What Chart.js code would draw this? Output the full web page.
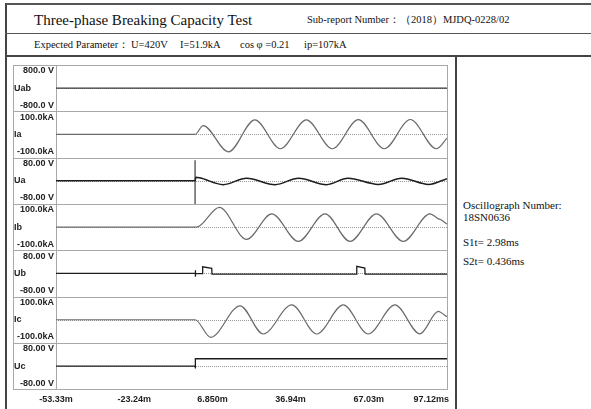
<!DOCTYPE html>
<html><head><meta charset="utf-8">
<script src="https://cdn.jsdelivr.net/npm/chart.js@4"></script>
<style>
html,body{margin:0;padding:0;background:#fff;width:591px;height:409px;overflow:hidden;}
.abs{position:absolute;}
.serif{font-family:"Liberation Serif","Times New Roman",serif;color:#111;white-space:nowrap;}
</style></head><body>
<div class="abs" style="left:5px;top:3px;width:600px;height:420px;border-left:2px solid #444;border-top:2px solid #555;"></div>
<div class="abs" style="left:5px;top:33px;width:600px;height:0;border-top:1px solid #555;"></div>
<div class="abs" style="left:5px;top:55px;width:600px;height:0;border-top:2px solid #444;"></div>
<div class="abs" style="left:455px;top:56px;width:0;height:360px;border-left:2px solid #444;"></div>

<div class="abs serif" style="left:34px;top:9px;line-height:22px;font-size:15px;">Three-phase Breaking Capacity Test</div>
<div class="abs serif" style="left:307px;top:11px;line-height:18px;font-size:10.5px;">Sub-report Number：（2018）MJDQ-0228/02</div>

<div class="abs serif" style="left:34px;top:36px;line-height:18px;font-size:10.5px;">Expected Parameter：</div>
<div class="abs serif" style="left:131px;top:36px;line-height:18px;font-size:10.5px;">U=420V</div>
<div class="abs serif" style="left:180px;top:36px;line-height:18px;font-size:10.5px;">I=51.9kA</div>
<div class="abs serif" style="left:240px;top:36px;line-height:18px;font-size:10.5px;">cos φ =0.21</div>
<div class="abs serif" style="left:304px;top:36px;line-height:18px;font-size:10.5px;">ip=107kA</div>

<div class="abs serif" style="left:463px;top:199px;line-height:12px;font-size:11px;">Oscillograph Number:</div>
<div class="abs serif" style="left:463px;top:211px;line-height:12px;font-size:11px;">18SN0636</div>
<div class="abs serif" style="left:463px;top:236px;line-height:12px;font-size:11px;">S1t= 2.98ms</div>
<div class="abs serif" style="left:463px;top:255px;line-height:12px;font-size:11px;">S2t= 0.436ms</div>

<canvas id="c" width="442" height="354" style="position:absolute;left:13px;top:57px;"></canvas>
<script>
// ---- data (time in ms) ----
const channelNames = ['Uab','Ia','Ua','Ib','Ub','Ic','Uc'];
const fullScale = [800, 100, 80, 100, 80, 100, 80];
const topLabels = ['800.0 V','100.0kA','80.00 V','100.0kA','80.00 V','100.0kA','80.00 V'];
const bottomLabels = ['-800.0 V','-100.0kA','-80.00 V','-100.0kA','-80.00 V','-100.0kA','-80.00 V'];
const timeTicks = [-53.33, -23.24, 6.85, 36.94, 67.03, 97.12];
const timeTickLabels = ['-53.33m','-23.24m','6.850m','36.94m','67.03m','97.12ms'];

const uabTime = [-53.33, 0, 97.12];
const uabValue = [0, 0, 0];

const iaTime = [-53.33, 0.15, 3.3, 13, 23.2, 33, 43, 53, 63, 73, 83, 93, 97.12];
const iaValue = [0, 0, 52, -101, 85, -83, 85, -83, 86, -83, 87, -83, -22];

const uaTime = [-53.33, 0.2, 0.5, 2, 11, 20, 31, 40, 50.8, 59, 70.7, 79.7, 90, 97.12];
const uaValue = [0, 0, 17, 14, -18, 12, -18, 12, -18, 12, -17, 12, -17, 10];
const uaMarkTime = [0.2, 0.2];
const uaMarkValue = [95, -108];

const ibTime = [-53.33, 0.8, 9.5, 20, 29.7, 39.9, 50.2, 59.8, 70, 80.3, 90.6, 93.8, 94.6, 97.12];
const ibValue = [0, 0, 115, -71, 77, -83, 77, -83, 77, -83, 77, 48, 44, 18];

const ubTime = [-53.33, 0.3, 0.3, 0.3, 0.4, 3.0, 3.1, 6.6, 6.7, 62.3, 62.4, 65.5, 65.6, 97.12];
const ubValue = [0, 0, 15, -15, 0, -1, 31, 24, -3, -3, 33, 25, -3, -3];

const icTime = [-53.33, 0.15, 6.2, 17.5, 26.4, 37.4, 47, 57.2, 66.8, 77.1, 86.7, 93.8, 94.6, 97.12];
const icValue = [0, 0, -102, 81, -83, 86, -83, 86, -83, 86, -82, 48, 44, 17];

const ucTime = [-53.33, 0.2, 0.2, 0.35, 0.35, 97.12];
const ucValue = [0, 0, -11, -11, 34, 34];

function pts(t, v) { return t.map((x, i) => ({x: x, y: v[i]})); }

const axisIds = channelNames.map((n, i) => 'y' + i);
const FONT = {family: '"Liberation Sans", Arial, sans-serif', size: 9, weight: 'bold'};

const scales = {
  x: {
    type: 'linear', min: timeTicks[0], max: timeTicks[timeTicks.length - 1],
    afterBuildTicks: s => { s.ticks = timeTicks.map(v => ({value: v})); },
    ticks: {
      autoSkip: false, maxRotation: 0, padding: 5, color: '#222', font: FONT,
      callback: (v, i) => i === timeTicks.length - 1 ? '' : timeTickLabels[i]
    },
    grid: {display: false, drawTicks: false},
    border: {display: false}
  }
};
channelNames.forEach((n, i) => {
  const m = fullScale[i];
  scales[axisIds[i]] = {
    type: 'linear', position: 'left', stack: 'osc', stackWeight: 1,
    weight: channelNames.length - i,
    min: -m * 1.346, max: m * 1.346,
    afterBuildTicks: s => { s.ticks = [{value: -m}, {value: 0}, {value: m}]; },
    afterFit: s => { s.width = 43; },
    ticks: {
      padding: 2, color: '#222', font: FONT,
      callback: v => v > 0 ? topLabels[i] : (v < 0 ? bottomLabels[i] : '')
    },
    grid: {display: false, drawTicks: false},
    border: {display: false}
  };
});

const CUR = '#6b6b6b', VOL = '#1c1c1c';
const datasets = [
  {data: pts(uabTime, uabValue), yAxisID: 'y0', borderColor: '#3a3a3a', borderWidth: 1.2, tension: 0},
  {data: pts(iaTime, iaValue), yAxisID: 'y1', borderColor: CUR, borderWidth: 1.2, cubicInterpolationMode: 'monotone'},
  {data: pts(uaTime, uaValue), yAxisID: 'y2', borderColor: VOL, borderWidth: 1.5, cubicInterpolationMode: 'monotone'},
  {data: pts(uaMarkTime, uaMarkValue), yAxisID: 'y2', borderColor: '#777', borderWidth: 1, tension: 0},
  {data: pts(ibTime, ibValue), yAxisID: 'y3', borderColor: CUR, borderWidth: 1.2, cubicInterpolationMode: 'monotone'},
  {data: pts(ubTime, ubValue), yAxisID: 'y4', borderColor: VOL, borderWidth: 1.3, tension: 0},
  {data: pts(icTime, icValue), yAxisID: 'y5', borderColor: CUR, borderWidth: 1.2, cubicInterpolationMode: 'monotone'},
  {data: pts(ucTime, ucValue), yAxisID: 'y6', borderColor: VOL, borderWidth: 1.3, tension: 0}
];

const framePlugin = {
  id: 'frame',
  beforeDatasetsDraw(chart) {
    const ctx = chart.ctx, a = chart.chartArea;
    const y0 = chart.scales.y0;
    const left = y0.left;
    ctx.save();
    ctx.strokeStyle = '#9a9a9a'; ctx.lineWidth = 1; ctx.setLineDash([1, 1]);
    axisIds.forEach(id => {
      const s = chart.scales[id];
      const py = Math.round(s.getPixelForValue(0)) + 0.5;
      ctx.beginPath(); ctx.moveTo(a.left, py); ctx.lineTo(a.right, py); ctx.stroke();
    });
    ctx.setLineDash([]);
    ctx.strokeStyle = '#a8a8a8';
    axisIds.forEach((id, i) => {
      if (i === axisIds.length - 1) return;
      const s = chart.scales[id];
      const py = Math.round(s.bottom) + 0.5;
      ctx.beginPath(); ctx.moveTo(left, py); ctx.lineTo(a.right, py); ctx.stroke();
    });
    ctx.beginPath(); ctx.moveTo(Math.round(a.left) + 0.5, a.top); ctx.lineTo(Math.round(a.left) + 0.5, a.bottom); ctx.stroke();
    ctx.strokeRect(Math.round(left) + 0.5, Math.round(a.top) + 0.5, Math.round(a.right - left), Math.round(a.bottom - a.top));
    ctx.restore();
  },
  afterDraw(chart) {
    const ctx = chart.ctx;
    const y0 = chart.scales.y0;
    ctx.save();
    ctx.font = 'bold 9px "Liberation Sans", Arial, sans-serif';
    ctx.fillStyle = '#222';
    ctx.textAlign = 'left'; ctx.textBaseline = 'middle';
    axisIds.forEach((id, i) => {
      const s = chart.scales[id];
      ctx.fillText(channelNames[i], y0.left + 1, s.getPixelForValue(0));
    });
    const xs = chart.scales.x;
    ctx.textAlign = 'right';
    ctx.fillText(timeTickLabels[timeTickLabels.length - 1], xs.getPixelForValue(timeTicks[timeTicks.length - 1]) + 2, xs.top + 5 + 5.4);
    ctx.restore();
  }
};

new Chart(document.getElementById('c'), {
  type: 'line',
  data: {datasets: datasets},
  options: {
    responsive: false, animation: false, devicePixelRatio: 1,
    layout: {padding: {top: 8, right: 8, bottom: 1, left: 0}},
    elements: {point: {radius: 0}},
    plugins: {legend: {display: false}, tooltip: {enabled: false}},
    scales: scales
  },
  plugins: [framePlugin]
});
</script>
</body></html>
